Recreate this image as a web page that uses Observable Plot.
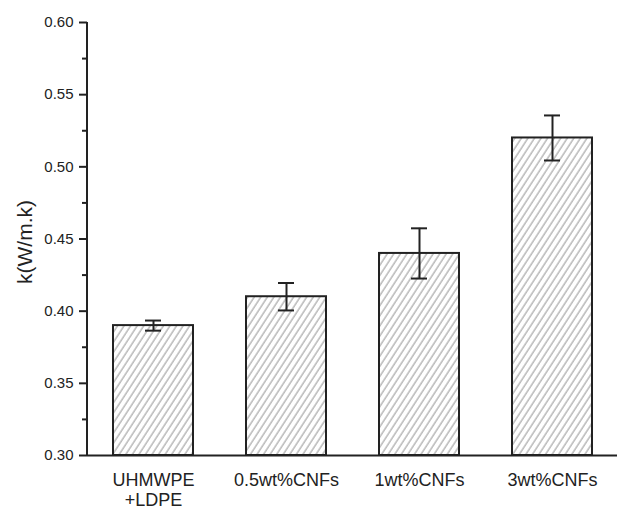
<!DOCTYPE html>
<html>
<head>
<meta charset="utf-8">
<script src="https://cdn.jsdelivr.net/npm/d3@7"></script>
<script src="https://cdn.jsdelivr.net/npm/@observablehq/plot@0.6"></script>
<style>
  html, body { margin: 0; padding: 0; background: #fff; }
  #chart svg { display: block; }
</style>
</head>
<body>
<div id="chart"></div>
<script>
const categories = ["UHMWPE\n+LDPE", "0.5wt%CNFs", "1wt%CNFs", "3wt%CNFs"];
const values = [0.390, 0.410, 0.440, 0.520];
const errors = [0.0035, 0.0095, 0.0174, 0.0156];
const yMin = 0.30, yMax = 0.60;
const majorTicks = [0.30, 0.35, 0.40, 0.45, 0.50, 0.55, 0.60];
const minorTicks = [0.325, 0.375, 0.425, 0.475, 0.525, 0.575];
const yLabel = "k(W/m.k)";

const data = categories.map((c, i) => ({c, v: values[i], e: errors[i]}));
const ink = "#222";

const plot = Plot.plot({
  width: 617,
  height: 510,
  marginTop: 22,
  marginBottom: 55,
  marginLeft: 87,
  marginRight: 0,
  style: {fontFamily: "'Liberation Sans', Arial, sans-serif", color: ink, background: "#fff"},
  x: {domain: categories, paddingInner: 0.4, paddingOuter: 0.187, axis: null},
  y: {domain: [yMin, yMax], axis: null},
  marks: [
    Plot.barY(data, {x: "c", y1: () => yMin, y2: "v", fill: "url(#hatch)", stroke: ink, strokeWidth: 2}),
    Plot.ruleX(data, {x: "c", y1: d => d.v - d.e, y2: d => d.v + d.e, stroke: ink, strokeWidth: 2}),
    Plot.tickY(data, {x: "c", y: d => d.v + d.e, stroke: ink, strokeWidth: 2, insetLeft: 32, insetRight: 32}),
    Plot.tickY(data, {x: "c", y: d => d.v - d.e, stroke: ink, strokeWidth: 2, insetLeft: 32, insetRight: 32}),
    Plot.ruleY([yMin], {stroke: ink, strokeWidth: 2}),
    Plot.axisY({ticks: majorTicks, tickSize: 8, tickPadding: 6, tickFormat: d3.format(".2f"), fontSize: 15, label: null, strokeWidth: 2, stroke: ink, fill: ink}),
    Plot.axisY({ticks: minorTicks, tickSize: 5, tickFormat: () => "", label: null, strokeWidth: 2, stroke: ink}),
    Plot.text(data, {x: "c", text: "c", frameAnchor: "bottom", lineAnchor: "top", dy: 16, fontSize: 18, lineHeight: 1.11, fill: ink}),
    Plot.text([yLabel], {frameAnchor: "left", textAnchor: "middle", rotate: -90, dx: -62, dy: 3, fontSize: 21, fill: ink})
  ]
});

const svg = d3.select(plot);
// left axis line, placed from the plot's own scales
const xr = plot.scale("x").range, yr = plot.scale("y").range;
svg.append("line")
  .attr("x1", xr[0]).attr("x2", xr[0])
  .attr("y1", yr[0] + 1).attr("y2", yr[1])
  .attr("stroke", ink).attr("stroke-width", 2);

// hatch pattern
const defs = svg.insert("defs", ":first-child");
const pat = defs.append("pattern")
  .attr("id", "hatch")
  .attr("patternUnits", "userSpaceOnUse")
  .attr("width", 5.5)
  .attr("height", 5.5)
  .attr("patternTransform", "rotate(33)");
pat.append("rect").attr("width", 5.5).attr("height", 5.5).attr("fill", "#fff");
pat.append("line").attr("x1", 1).attr("y1", 0).attr("x2", 1).attr("y2", 5.5)
  .attr("stroke", "#3a3a3a").attr("stroke-width", 0.55);

document.getElementById("chart").appendChild(plot);
</script>
</body>
</html>
